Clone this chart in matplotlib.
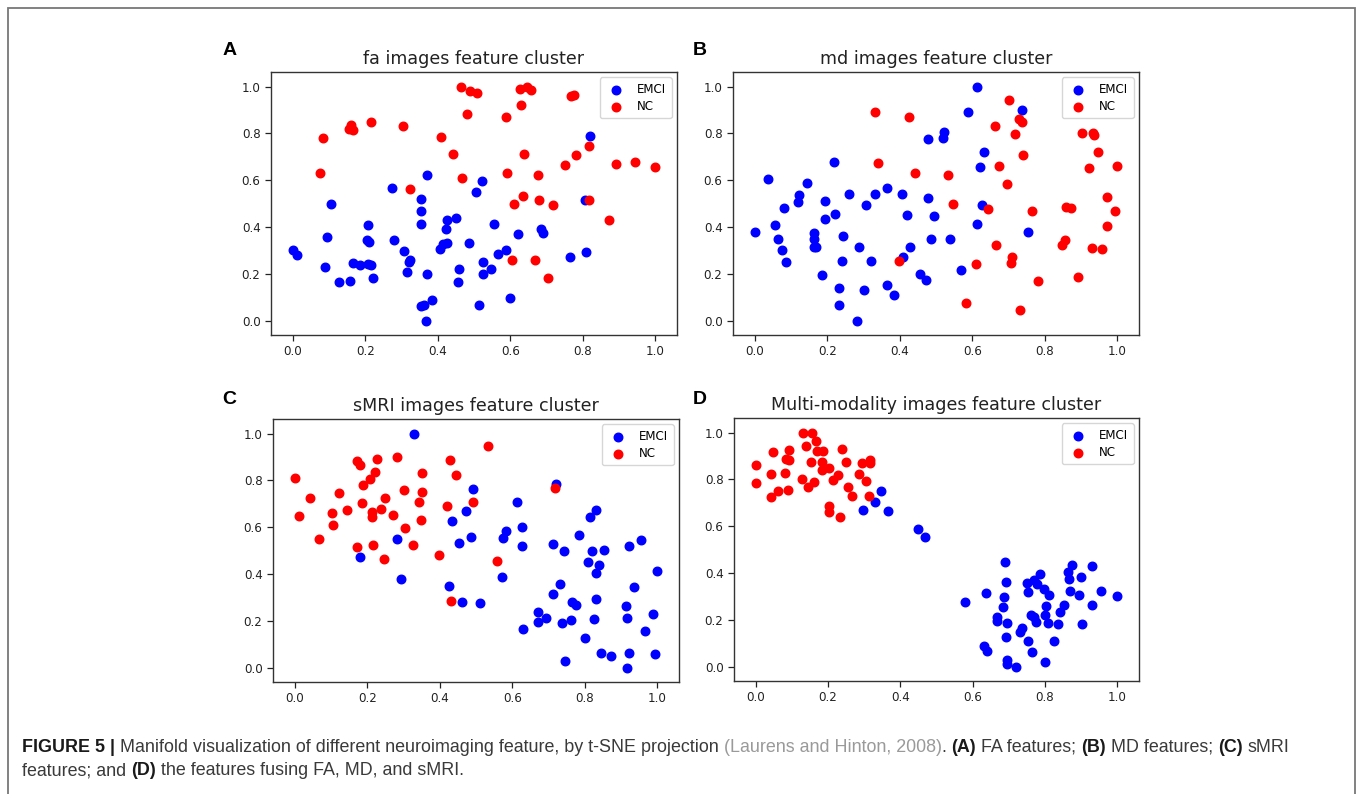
import matplotlib
matplotlib.use("Agg")
import matplotlib.pyplot as plt
from matplotlib.patches import Rectangle

# ---------------- data ----------------
titles = ["fa images feature cluster", "md images feature cluster",
          "sMRI images feature cluster", "Multi-modality images feature cluster"]
panel_letters = ["A", "B", "C", "D"]
class_names = ["EMCI", "NC"]
ticks = [0.0, 0.2, 0.4, 0.6, 0.8, 1.0]
tick_labels = ["0.0", "0.2", "0.4", "0.6", "0.8", "1.0"]

# Panel A (FA)
a_emci_x = [0.000, 0.012, 0.105, 0.094, 0.088, 0.127, 0.159, 0.165, 0.186, 0.207, 0.216, 0.221, 0.207, 0.205,
            0.211, 0.274, 0.278, 0.307, 0.324, 0.322, 0.316, 0.354, 0.355, 0.353, 0.370, 0.354, 0.362, 0.368,
            0.383, 0.371, 0.426, 0.422, 0.426, 0.406, 0.414, 0.821, 0.522, 0.505, 0.805, 0.451, 0.555, 0.621,
            0.686, 0.689, 0.487, 0.588, 0.567, 0.525, 0.459, 0.457, 0.548, 0.524, 0.599, 0.514, 0.765, 0.809]
a_emci_y = [0.304, 0.280, 0.501, 0.357, 0.231, 0.168, 0.171, 0.248, 0.237, 0.243, 0.237, 0.185, 0.408, 0.345,
            0.335, 0.565, 0.345, 0.298, 0.261, 0.251, 0.210, 0.521, 0.471, 0.412, 0.623, 0.064, 0.068, 0.000,
            0.088, 0.200, 0.432, 0.394, 0.334, 0.308, 0.328, 0.789, 0.596, 0.551, 0.514, 0.439, 0.415, 0.369,
            0.392, 0.377, 0.334, 0.302, 0.284, 0.251, 0.223, 0.164, 0.223, 0.201, 0.097, 0.066, 0.271, 0.295]
a_nc_x = [0.084, 0.076, 0.161, 0.154, 0.165, 0.217, 0.304, 0.324, 0.409, 0.442, 0.463, 0.488, 0.509, 0.481,
          0.466, 0.626, 0.647, 0.658, 0.631, 0.588, 0.768, 0.777, 0.818, 0.638, 0.780, 0.752, 0.893, 0.945,
          1.000, 0.592, 0.677, 0.635, 0.609, 0.679, 0.718, 0.816, 0.873, 0.605, 0.667, 0.705]
a_nc_y = [0.779, 0.633, 0.836, 0.817, 0.813, 0.847, 0.833, 0.561, 0.786, 0.712, 1.000, 0.979, 0.974, 0.883,
          0.608, 0.991, 0.997, 0.987, 0.923, 0.872, 0.961, 0.963, 0.748, 0.713, 0.706, 0.666, 0.668, 0.679,
          0.658, 0.633, 0.621, 0.531, 0.498, 0.514, 0.496, 0.516, 0.432, 0.258, 0.258, 0.185]

# Panel B (MD)
b_emci_x = [0.000, 0.036, 0.057, 0.065, 0.075, 0.087, 0.080, 0.121, 0.118, 0.144, 0.164, 0.164, 0.163, 0.170,
            0.194, 0.193, 0.186, 0.219, 0.220, 0.244, 0.241, 0.232, 0.232, 0.259, 0.288, 0.281, 0.302, 0.307,
            0.322, 0.333, 0.365, 0.364, 0.384, 0.407, 0.419, 0.427, 0.408, 0.455, 0.612, 0.587, 0.737, 0.523,
            0.518, 0.477, 0.633, 0.622, 0.477, 0.495, 0.628, 0.613, 0.485, 0.538, 0.753, 0.568, 0.473]
b_emci_y = [0.379, 0.607, 0.409, 0.349, 0.304, 0.250, 0.481, 0.536, 0.508, 0.588, 0.375, 0.349, 0.314, 0.317,
            0.513, 0.434, 0.194, 0.678, 0.455, 0.361, 0.256, 0.139, 0.069, 0.543, 0.317, 0.000, 0.130, 0.494,
            0.256, 0.543, 0.567, 0.154, 0.110, 0.542, 0.451, 0.314, 0.274, 0.201, 1.000, 0.891, 0.902, 0.806,
            0.779, 0.775, 0.719, 0.658, 0.526, 0.447, 0.496, 0.414, 0.349, 0.348, 0.380, 0.216, 0.175]
b_nc_x = [0.331, 0.425, 0.341, 0.441, 0.397, 0.702, 0.728, 0.736, 0.662, 0.719, 0.739, 0.674, 0.532, 0.697,
          0.547, 0.644, 0.765, 0.666, 0.711, 0.707, 0.610, 0.583, 0.731, 0.780, 0.902, 0.933, 0.935, 0.947,
          0.922, 1.000, 0.971, 0.993, 0.973, 0.858, 0.873, 0.856, 0.847, 0.931, 0.958, 0.893]
b_nc_y = [0.890, 0.871, 0.673, 0.629, 0.257, 0.941, 0.863, 0.850, 0.833, 0.799, 0.710, 0.659, 0.624, 0.583,
          0.501, 0.477, 0.467, 0.324, 0.272, 0.248, 0.243, 0.075, 0.045, 0.170, 0.802, 0.802, 0.795, 0.719,
          0.652, 0.661, 0.530, 0.470, 0.403, 0.488, 0.482, 0.345, 0.322, 0.313, 0.307, 0.187]

# Panel C (sMRI)
c_emci_x = [0.330, 0.281, 0.180, 0.292, 0.425, 0.721, 0.491, 0.472, 0.435, 0.453, 0.486, 0.613, 0.583, 0.574,
            0.626, 0.626, 0.573, 0.460, 0.511, 0.831, 0.814, 0.785, 0.712, 0.743, 0.819, 0.852, 0.808, 0.838,
            0.832, 0.733, 0.713, 0.764, 0.777, 0.832, 0.671, 0.670, 0.694, 0.738, 0.763, 0.826, 0.630, 0.802,
            0.845, 0.872, 0.745, 0.923, 0.955, 0.935, 1.000, 0.914, 0.917, 0.987, 0.967, 0.923, 0.994, 0.917]
c_emci_y = [1.000, 0.552, 0.472, 0.381, 0.349, 0.785, 0.762, 0.671, 0.627, 0.532, 0.558, 0.706, 0.583, 0.556,
            0.600, 0.522, 0.388, 0.280, 0.277, 0.673, 0.644, 0.569, 0.529, 0.499, 0.501, 0.502, 0.450, 0.441,
            0.404, 0.360, 0.317, 0.283, 0.269, 0.296, 0.239, 0.195, 0.211, 0.193, 0.203, 0.208, 0.168, 0.128,
            0.064, 0.053, 0.030, 0.519, 0.545, 0.347, 0.415, 0.263, 0.212, 0.229, 0.156, 0.065, 0.061, 0.000]
c_nc_x = [0.000, 0.012, 0.043, 0.068, 0.103, 0.106, 0.121, 0.144, 0.171, 0.181, 0.172, 0.189, 0.186, 0.207,
          0.220, 0.226, 0.213, 0.212, 0.217, 0.238, 0.248, 0.245, 0.271, 0.282, 0.300, 0.304, 0.325, 0.343,
          0.347, 0.351, 0.352, 0.397, 0.420, 0.428, 0.431, 0.533, 0.444, 0.491, 0.719, 0.557]
c_nc_y = [0.811, 0.649, 0.725, 0.550, 0.660, 0.610, 0.745, 0.674, 0.882, 0.865, 0.518, 0.781, 0.704, 0.804,
          0.834, 0.893, 0.666, 0.643, 0.525, 0.676, 0.724, 0.464, 0.654, 0.898, 0.760, 0.597, 0.526, 0.707,
          0.629, 0.832, 0.751, 0.482, 0.690, 0.885, 0.286, 0.947, 0.821, 0.707, 0.768, 0.458]

# Panel D (multi-modality)
d_emci_x = [0.297, 0.329, 0.347, 0.367, 0.448, 0.468, 0.580, 0.636, 0.632, 0.639, 0.689, 0.692, 0.687, 0.685,
            0.668, 0.666, 0.696, 0.692, 0.695, 0.695, 0.720, 0.730, 0.737, 0.752, 0.765, 0.751, 0.753, 0.769,
            0.778, 0.786, 0.797, 0.810, 0.803, 0.801, 0.807, 0.760, 0.770, 0.776, 0.799, 0.824, 0.836, 0.842,
            0.852, 0.864, 0.875, 0.867, 0.870, 0.895, 0.900, 0.901, 0.931, 0.931, 0.954, 1.000]
d_emci_y = [0.670, 0.702, 0.751, 0.667, 0.588, 0.553, 0.275, 0.315, 0.090, 0.070, 0.446, 0.362, 0.299, 0.254,
            0.215, 0.194, 0.188, 0.128, 0.028, 0.014, 0.000, 0.151, 0.167, 0.111, 0.063, 0.358, 0.318, 0.372,
            0.353, 0.397, 0.332, 0.309, 0.259, 0.222, 0.188, 0.222, 0.214, 0.192, 0.020, 0.110, 0.182, 0.236,
            0.265, 0.406, 0.436, 0.376, 0.323, 0.309, 0.383, 0.182, 0.430, 0.264, 0.323, 0.301]
d_nc_x = [0.002, 0.001, 0.042, 0.048, 0.042, 0.063, 0.082, 0.085, 0.093, 0.093, 0.088, 0.127, 0.131, 0.156,
          0.139, 0.167, 0.170, 0.187, 0.154, 0.145, 0.162, 0.182, 0.183, 0.203, 0.203, 0.203, 0.215, 0.227,
          0.239, 0.233, 0.251, 0.254, 0.265, 0.285, 0.294, 0.306, 0.315, 0.316, 0.313]
d_nc_y = [0.862, 0.785, 0.823, 0.917, 0.726, 0.749, 0.829, 0.887, 0.883, 0.926, 0.756, 0.803, 1.000, 1.000,
          0.944, 0.966, 0.922, 0.922, 0.876, 0.768, 0.789, 0.873, 0.842, 0.850, 0.688, 0.660, 0.796, 0.819,
          0.930, 0.638, 0.876, 0.769, 0.729, 0.823, 0.868, 0.792, 0.883, 0.872, 0.731]

panels = [
    (a_emci_x, a_emci_y, a_nc_x, a_nc_y),
    (b_emci_x, b_emci_y, b_nc_x, b_nc_y),
    (c_emci_x, c_emci_y, c_nc_x, c_nc_y),
    (d_emci_x, d_emci_y, d_nc_x, d_nc_y),
]

caption_line1 = [("FIGURE 5 |", "bold", "#1a1a1a", True),
                 ("Manifold visualization of different neuroimaging feature, by t-SNE projection", "normal", "#3a3a3a", True),
                 ("(Laurens and Hinton, 2008)", "normal", "#9a9a9a", False),
                 (".", "normal", "#3a3a3a", True),
                 ("(A)", "bold", "#1a1a1a", True),
                 ("FA features;", "normal", "#3a3a3a", True),
                 ("(B)", "bold", "#1a1a1a", True),
                 ("MD features;", "normal", "#3a3a3a", True),
                 ("(C)", "bold", "#1a1a1a", True),
                 ("sMRI", "normal", "#3a3a3a", False)]
caption_line2 = [("features; and", "normal", "#3a3a3a", True),
                 ("(D)", "bold", "#1a1a1a", True),
                 ("the features fusing FA, MD, and sMRI.", "normal", "#3a3a3a", False)]

# ---------------- figure ----------------
W, H = 1358, 794
fig = plt.figure(figsize=(W / 100, H / 100), dpi=100)
fig.patch.set_facecolor("white")

def fx(px):
    return px / W

def fy(py):
    return 1 - py / H

# axes boxes in pixels: left, top, right, bottom
boxes = [(271, 72, 677, 335), (733, 72, 1139, 335), (273, 419, 679, 682), (734, 418, 1139, 681)]
label_pos = [(230, 55), (700, 55), (229, 404), (700, 404)]

for i, (box, data) in enumerate(zip(boxes, panels)):
    l, t, r, b = box
    ax = fig.add_axes([fx(l), fy(b), fx(r) - fx(l), fy(t) - fy(b)])
    ex, ey, nx, ny = data
    ax.scatter(ex, ey, s=38, c="#0000ff", label=class_names[0], zorder=2)
    ax.scatter(nx, ny, s=38, c="#ff0000", label=class_names[1], zorder=3)
    ax.set_xlim(-0.06, 1.06)
    ax.set_ylim(-0.06, 1.062)
    ax.set_xticks(ticks)
    ax.set_xticklabels(tick_labels)
    ax.set_yticks(ticks)
    ax.set_yticklabels(tick_labels)
    ax.tick_params(labelsize=8.6, colors="#222222", length=4, width=0.9)
    for sp in ax.spines.values():
        sp.set_color("#333333")
        sp.set_linewidth(1.0)
    ax.set_title(titles[i], fontsize=12.6, color="#222222", pad=6)
    ax.legend(loc="upper right", fontsize=8.6, scatterpoints=1, handletextpad=0.9,
              borderpad=0.45, labelspacing=0.35, handlelength=1.8, borderaxespad=0.45)
    lx, ly = label_pos[i]
    fig.text(fx(lx), fy(ly), panel_letters[i], ha="center", va="baseline",
             fontsize=14, fontweight="bold", family="Liberation Sans", color="black")

# frame around figure
fig.add_artist(Rectangle((fx(8), -0.05), fx(1355) - fx(8), fy(8) + 0.05,
                         transform=fig.transFigure, fill=False, edgecolor="#777777", linewidth=1.3))

# caption
renderer = fig.canvas.get_renderer()

def text_width(s, weight, size):
    t = fig.text(0, 0, s, fontsize=size, fontweight=weight, family="Liberation Sans")
    w = t.get_window_extent(renderer).width
    t.remove()
    return w

def line_width(pieces, size):
    sp = text_width("a a", "normal", size) - text_width("aa", "normal", size)
    total = 0
    for s, wgt, col, space in pieces:
        total += text_width(s, wgt, size)
        if space:
            total += sp
    return total

base_size = 11
target = 1289 - 22
size = base_size * target / line_width(caption_line1, base_size)

def draw_line(pieces, x0, y_base, size):
    sp = text_width("a a", "normal", size) - text_width("aa", "normal", size)
    x = x0
    for s, wgt, col, space in pieces:
        fig.text(fx(x), fy(y_base), s, fontsize=size, fontweight=wgt, color=col,
                 family="Liberation Sans", ha="left", va="baseline")
        x += text_width(s, wgt, size)
        if space:
            x += sp

draw_line(caption_line1, 22, 752, size)
draw_line(caption_line2, 22, 775, size)

fig.savefig("out.png", dpi=100)
